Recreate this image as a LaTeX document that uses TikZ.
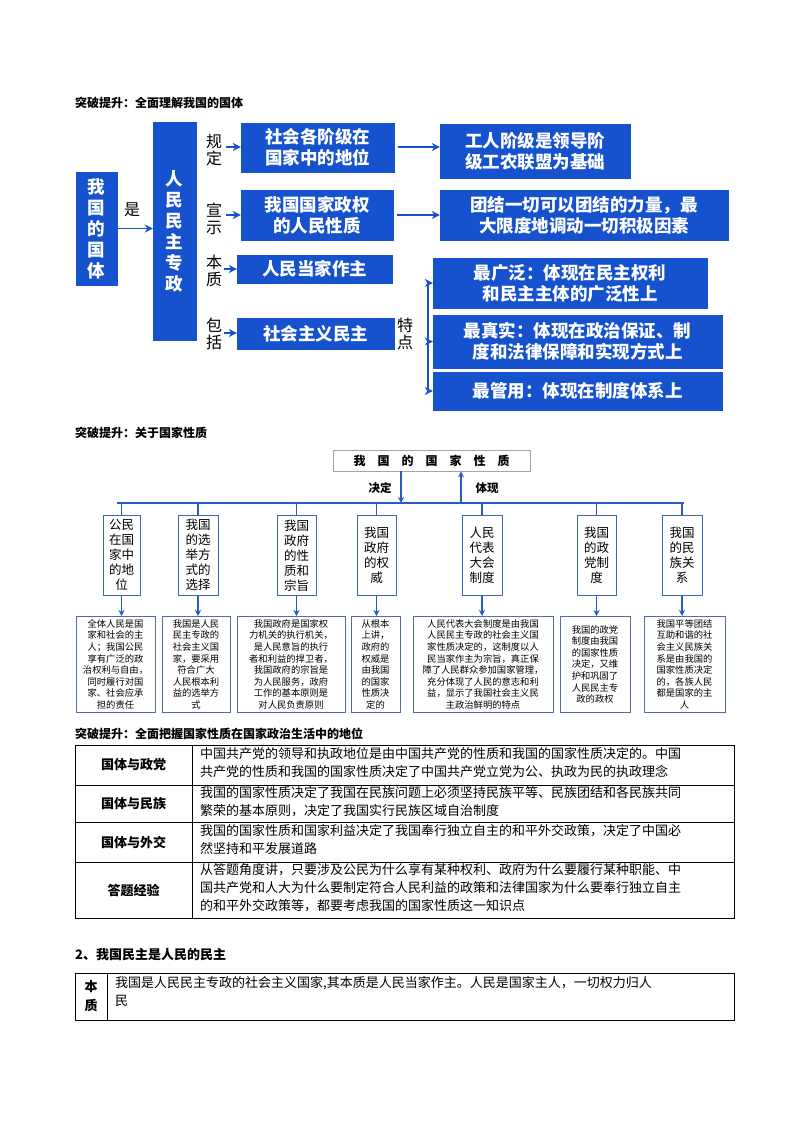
\documentclass[tikz,border=0pt]{standalone}
\usepackage{fontspec}
\setmainfont{Noto Sans CJK SC}
\usetikzlibrary{arrows.meta}
\definecolor{bb}{RGB}{22,82,205}
\definecolor{ln}{RGB}{40,90,200}
\tikzset{
 bbox/.style={fill=bb,draw=bb,text=white,font=\fontsize{17.5}{21}\bfseries\selectfont,inner sep=0pt,align=center},
 arr/.style={draw=bb,line width=1.8pt,-{Stealth[length=8pt,width=8pt]}},
 lab/.style={font=\fontsize{16}{17}\selectfont,align=center,inner sep=0pt},
 sbox/.style={draw=ln!70!gray,line width=0.6pt,font=\fontsize{12.5}{15}\selectfont,align=center,inner sep=0pt},
 tbox/.style={draw=ln!50!gray,line width=0.6pt,font=\fontsize{9.3}{11.6}\selectfont,align=center,inner sep=0pt},
 barr/.style={draw=ln,line width=1.4pt,-{Stealth[length=6pt,width=6pt]}},
 head/.style={font=\fontsize{12}{14}\bfseries\selectfont,anchor=west,inner sep=0pt},
 cell/.style={font=\fontsize{13}{18}\selectfont,anchor=north west,align=left,inner sep=0pt},
 hcell/.style={font=\fontsize{13}{16}\bfseries\selectfont,align=center,inner sep=0pt}
}
\begin{document}
\begin{tikzpicture}[x=1pt,y=-1pt]
\useasboundingbox[fill=white] (0,0) rectangle (800,1132);
% ---------- section 1
\node[head] (h1) at (75,103) {突破提升：全面理解我国的国体};
\node[bbox,minimum width=41,minimum height=113] (gt) at (96.5,228.5) {我\\国\\的\\国\\体};
\node[bbox,minimum width=43,minimum height=218] (rm) at (174.5,231) {人\\民\\民\\主\\专\\政};
\draw[arr] (gt.east) -- (rm.west|-gt.east);
\node[lab] (shi) at (132,210) {是};
\node[lab] (l1) at (214,150) {规\\定};
\node[lab] (l2) at (214,219) {宣\\示};
\node[lab] (l3) at (214,271) {本\\质};
\node[lab] (l4) at (214,334) {包\\括};
\node[bbox,minimum width=153,minimum height=49] (b1) at (317.5,147.5) {社会各阶级在\\国家中的地位};
\node[bbox,minimum width=190,minimum height=54] (b2) at (535,151) {工人阶级是领导阶\\级工农联盟为基础};
\node[bbox,minimum width=152,minimum height=50] (b3) at (317,215) {我国国家政权\\的人民性质};
\node[bbox,minimum width=288,minimum height=50] (b4) at (584,215) {团结一切可以团结的力量，最\\大限度地调动一切积极因素};
\node[bbox,minimum width=155,minimum height=28] (b5) at (314.5,269) {人民当家作主};
\node[bbox,minimum width=157,minimum height=31] (b6) at (315.5,333.5) {社会主义民主};
\node[lab] (td) at (405,334) {特\\点};
\node[bbox,minimum width=274,minimum height=50] (c1) at (570,283) {最广泛：体现在民主权利\\和民主主体的广泛性上};
\node[bbox,minimum width=289,minimum height=53] (c2) at (577.5,341.5) {最真实：体现在政治保证、制\\度和法律保障和实现方式上};
\node[bbox,minimum width=289,minimum height=38] (c3) at (577.5,391) {最管用：体现在制度体系上};
\coordinate (a1) at (226,147);
\coordinate (a2) at (226,215);
\coordinate (a3) at (224,269);
\coordinate (a4) at (224,333);
\coordinate (a5) at (398,147);
\coordinate (a6) at (397,215);
\draw[arr] (a1) -- (b1.west|-a1);
\draw[arr] (a2) -- (b3.west|-a2);
\draw[arr] (a3) -- (b5.west|-a3);
\draw[arr] (a4) -- (b6.west|-a4);
\draw[arr] (a5) -- (b2.west|-a5);
\draw[arr] (a6) -- (b4.west|-a6);
\coordinate (br1) at (428,283);
\coordinate (br2) at (428,391);
\coordinate (brm) at (428,341.5);
\draw[draw=bb,line width=1.8pt] (br1) -- (br2);
\draw[arr] (br1) -- (c1.west);
\draw[arr] (brm) -- (c2.west);
\draw[arr] (br2) -- (c3.west);
% ---------- section 2
\node[head] (h2) at (75,433) {突破提升：关于国家性质};
\node[draw=gray!70,line width=0.6pt,minimum width=197,minimum height=21,inner sep=0pt,font=\fontsize{12}{14}\bfseries\selectfont] (top) at (431.5,460.5) {我\hspace{1em}国\hspace{1em}的\hspace{1em}国\hspace{1em}家\hspace{1em}性\hspace{1em}质};
\coordinate (hl) at (117,503);
\coordinate (hr) at (684,503);
\coordinate (j1) at (401,503);
\coordinate (j2) at (461,503);
\draw[ln,line width=1.4pt] (hl) -- (hr);
\draw[barr] (top.south-|j1) -- (j1);
\draw[barr] (j2) -- (top.south-|j2);
\node[font=\fontsize{11.5}{13}\bfseries\selectfont] (jd) at (380,488) {决定};
\node[font=\fontsize{11.5}{13}\bfseries\selectfont] (tx) at (487,488) {体现};
\foreach \n/\x/\w/\t in {
 1/121.5/37/{公民\\在国\\家中\\的地\\位},
 2/198/40/{我国\\的选\\举方\\式的\\选择},
 3/296.5/39/{我国\\政府\\的性\\质和\\宗旨},
 4/376.5/39/{我国\\政府\\的权\\威},
 5/482/40/{人民\\代表\\大会\\制度},
 6/596.5/39/{我国\\的政\\党制\\度},
 7/682/40/{我国\\的民\\族关\\系}}{
 \node[sbox,minimum width=\w,minimum height=80,anchor=north] (s\n) at (\x,515) {\t};
}
\foreach \n in {1,...,7}{\draw[ln,line width=1.4pt] (s\n.north|-hl) -- (s\n.north);}
\foreach \n/\x/\w/\t in {
 1/115.5/79/{全体人民是国\\家和社会的主\\人；我国公民\\享有广泛的政\\治权利与自由，\\同时履行对国\\家、社会应承\\担的责任},
 2/196/68/{我国是人民\\民主专政的\\社会主义国\\家，要采用\\符合广大\\人民根本利\\益的选举方\\式},
 3/291/108/{我国政府是国家权\\力机关的执行机关，\\是人民意旨的执行\\者和利益的捍卫者，\\我国政府的宗旨是\\为人民服务，政府\\工作的基本原则是\\对人民负责原则},
 4/375.5/49/{从根本\\上讲，\\政府的\\权威是\\由我国\\的国家\\性质决\\定的},
 5/483/140/{人民代表大会制度是由我国\\人民民主专政的社会主义国\\家性质决定的，这制度以人\\民当家作主为宗旨，真正保\\障了人民群众参加国家管理，\\充分体现了人民的意志和利\\益，显示了我国社会主义民\\主政治鲜明的特点},
 6/595/70/{我国的政党\\制度由我国\\的国家性质\\决定，又维\\护和巩固了\\人民民主专\\政的政权},
 7/684.5/81/{我国平等团结\\互助和谐的社\\会主义民族关\\系是由我国的\\国家性质决定\\的，各族人民\\都是国家的主\\人}}{
 \node[tbox,minimum width=\w,minimum height=96,anchor=north] (t\n) at (\x,616) {\t};
}
\foreach \n in {1,...,7}{\draw[barr] (s\n.south) -- (t\n.north-|s\n.south);}
% ---------- section 3
\node[head] (h3) at (75,734) {突破提升：全面把握国家性质在国家政治生活中的地位};
\draw[line width=0.8pt] (75,745) rectangle (734,918);
\draw[line width=0.6pt] (75,785) -- (734,785) (75,822) -- (734,822) (75,862) -- (734,862) (192,745) -- (192,918);
\node[hcell] (r1) at (133.5,765) {国体与政党};
\node[hcell] (r2) at (133.5,803.5) {国体与民族};
\node[hcell] (r3) at (133.5,842) {国体与外交};
\node[hcell] (r4) at (133.5,890) {答题经验};
\node[cell] (d1) at (200,747) {中国共产党的领导和执政地位是由中国共产党的性质和我国的国家性质决定的。中国\\共产党的性质和我国的国家性质决定了中国共产党立党为公、执政为民的执政理念};
\node[cell] (d2) at (200,786) {我国的国家性质决定了我国在民族问题上必须坚持民族平等、民族团结和各民族共同\\繁荣的基本原则，决定了我国实行民族区域自治制度};
\node[cell] (d3) at (200,824) {我国的国家性质和国家利益决定了我国奉行独立自主的和平外交政策，决定了中国必\\然坚持和平发展道路};
\node[cell] (d4) at (200,863) {从答题角度讲，只要涉及公民为什么享有某种权利、政府为什么要履行某种职能、中\\国共产党和人大为什么要制定符合人民利益的政策和法律国家为什么要奉行独立自主\\的和平外交政策等，都要考虑我国的国家性质这一知识点};
% ---------- section 4
\node[font=\fontsize{13}{15}\bfseries\selectfont,anchor=west,inner sep=0pt] (h4) at (75,955) {2、我国民主是人民的民主};
\draw[line width=0.8pt] (75,973) rectangle (734,1020);
\draw[line width=0.6pt] (107,973) -- (107,1020);
\node[hcell,font=\fontsize{13}{19}\bfseries\selectfont] (bz) at (91,996.5) {本\\质};
\node[cell] (bzt) at (115,976) {我国是人民民主专政的社会主义国家,其本质是人民当家作主。人民是国家主人，一切权力归人\\民};
\end{tikzpicture}
\end{document}
